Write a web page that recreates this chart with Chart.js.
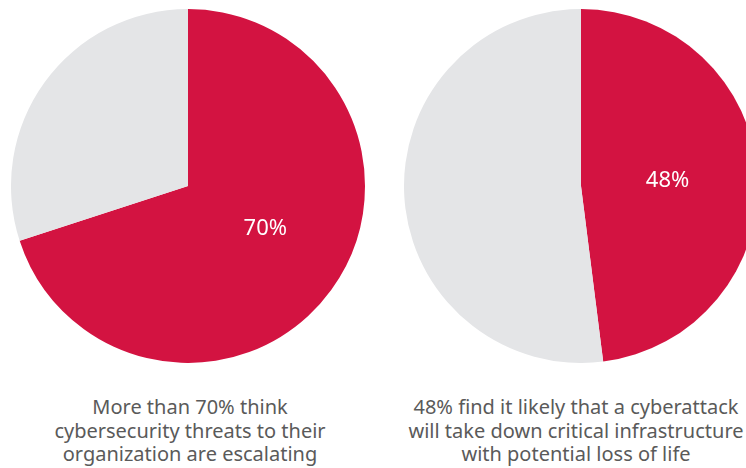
<!DOCTYPE html>
<html>
<head>
<meta charset="utf-8">
<script src="https://cdn.jsdelivr.net/npm/chart.js@4/dist/chart.umd.min.js"></script>
<style>
  html, body { margin: 0; padding: 0; width: 746px; height: 468px; overflow: hidden; background: #fff; }
  .pie { position: absolute; top: 9px; width: 354px; height: 354px; }
  .cap { position: absolute; top: 395px; width: 380px; text-align: center;
         font-family: "Noto Sans", sans-serif; font-size: 20px; line-height: 23.5px; color: #5a5a5a; }
</style>
</head>
<body>
<div class="pie" style="left:11px"><canvas id="c1"></canvas></div>
<div class="pie" style="left:404px"><canvas id="c2"></canvas></div>
<div class="cap" style="left:0px">More than 70% think<br>cybersecurity threats to their<br>organization are escalating</div>
<div class="cap" style="left:386px">48% find it likely that a cyberattack<br>will take down critical infrastructure<br>with potential loss of life</div>
<script>
const categories = ["Yes", "Other"];
const escalatingValues = [70, 30];
const infrastructureValues = [48, 52];
const sliceLabels1 = ["70%", ""];
const sliceLabels2 = ["48%", ""];
const colors = ["#D31341", "#E4E5E7"];

const labelPlugin = {
  id: 'sliceLabels',
  afterDatasetsDraw(chart, args, opts) {
    const ctx = chart.ctx;
    const meta = chart.getDatasetMeta(0);
    meta.data.forEach((arc, i) => {
      const txt = opts.labels[i];
      if (!txt) return;
      const p = arc.getProps(['x','y','startAngle','endAngle','outerRadius'], true);
      const mid = (p.startAngle + p.endAngle) / 2 + (opts.angleShift || 0);
      const d = p.outerRadius * (opts.dist || 0.5);
      ctx.save();
      ctx.fillStyle = '#fff';
      ctx.font = '22px "Noto Sans", sans-serif';
      ctx.textAlign = 'center';
      ctx.textBaseline = 'middle';
      ctx.fillText(txt, p.x + Math.cos(mid) * d, p.y + Math.sin(mid) * d);
      ctx.restore();
    });
  }
};

function makePie(id, values, labels, extra) {
  new Chart(document.getElementById(id), {
    type: 'pie',
    data: { labels: categories, datasets: [{ data: values, backgroundColor: colors, borderWidth: 0, hoverOffset: 0 }] },
    options: {
      responsive: true, maintainAspectRatio: false, animation: false, events: [],
      layout: { padding: 0 },
      plugins: { legend: { display: false }, tooltip: { enabled: false },
                 sliceLabels: Object.assign({ labels: labels }, extra) }
    },
    plugins: [labelPlugin]
  });
}
makePie('c1', escalatingValues, sliceLabels1, { angleShift: -0.12, dist: 0.5 });
makePie('c2', infrastructureValues, sliceLabels2, { angleShift: 0, dist: 0.49 });
</script>
</body>
</html>
